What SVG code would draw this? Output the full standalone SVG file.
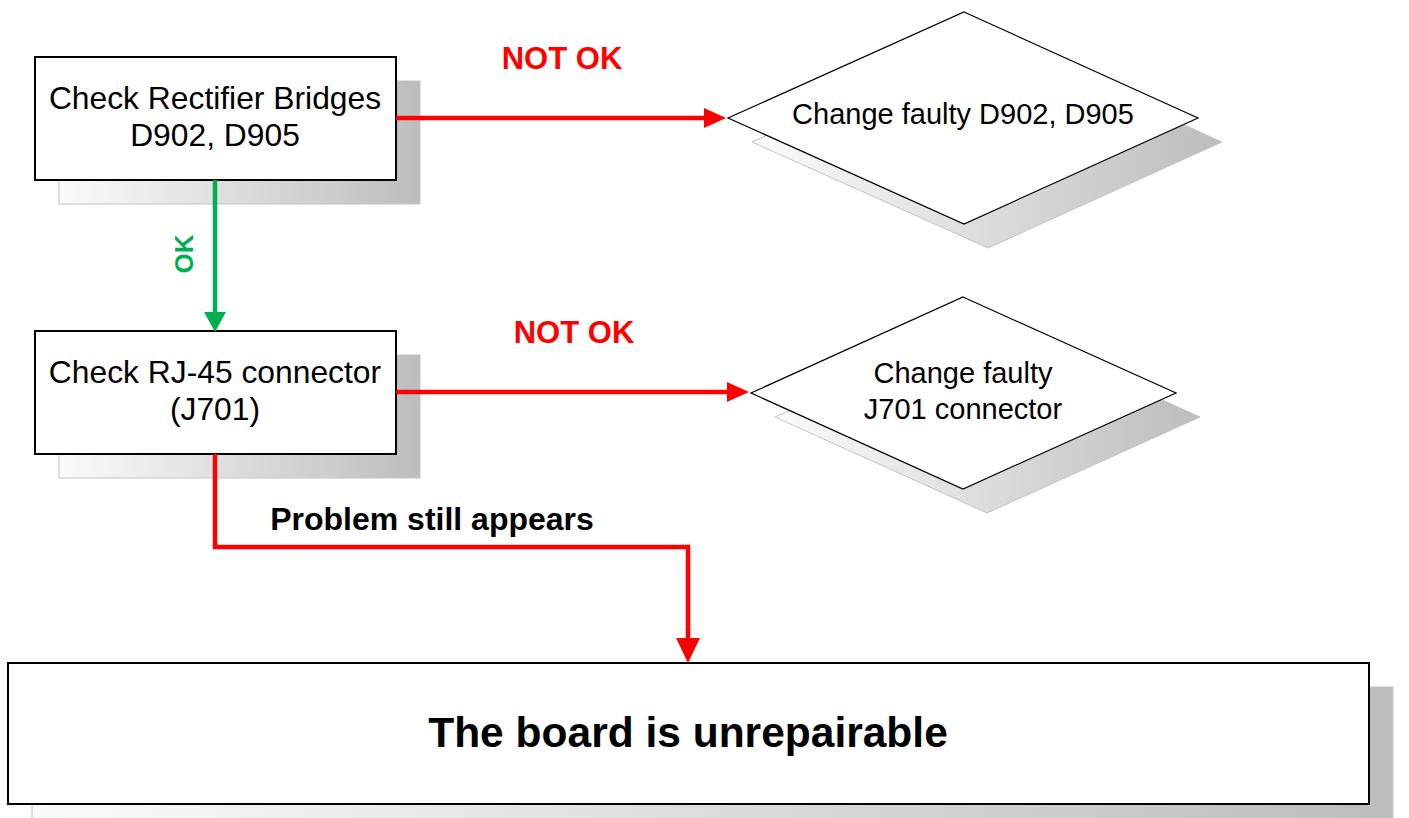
<svg xmlns="http://www.w3.org/2000/svg" width="1409" height="818" viewBox="0 0 1409 818">
<defs>
<linearGradient id="sh" x1="0" y1="0" x2="1" y2="0">
<stop offset="0" stop-color="#fbfbfb"/>
<stop offset="1" stop-color="#bdbdbd"/>
</linearGradient>
<marker id="ar" markerUnits="userSpaceOnUse" markerWidth="22" markerHeight="20" refX="12" refY="10" orient="auto">
<path d="M0,0 L22,10 L0,20 z" fill="#ff0000"/>
</marker>
<marker id="ard" markerUnits="userSpaceOnUse" markerWidth="25" markerHeight="24" refX="13" refY="12" orient="auto">
<path d="M0,0 L25,12 L0,24 z" fill="#ff0000"/>
</marker>
<marker id="ag" markerUnits="userSpaceOnUse" markerWidth="20" markerHeight="22" refX="10" refY="11" orient="auto">
<path d="M0,0 L20,11 L0,22 z" fill="#00b050"/>
</marker>
</defs>
<style>
.shadow{fill:url(#sh);stroke:#c4c4c4;stroke-width:1}
.box{fill:#ffffff;stroke:#000000;stroke-width:2}
.dia{fill:#ffffff;stroke:#000000;stroke-width:1.2}
.t{font-family:"Liberation Sans",Arial,sans-serif;font-size:31.8px;fill:#000;text-anchor:middle}
.td{font-family:"Liberation Sans",Arial,sans-serif;font-size:29px;fill:#000;text-anchor:middle}
.lbl{font-family:"Liberation Sans",Arial,sans-serif;font-weight:bold;text-anchor:middle}
.red{fill:none;stroke:#ff0000;stroke-width:4.5}
.grn{fill:none;stroke:#00b050;stroke-width:4.5}
</style>
<rect width="1409" height="818" fill="#ffffff"/>

<g id="node-rectifier">
<rect class="shadow" x="59" y="81" width="361" height="123"/>
<rect class="box" x="35" y="57" width="361" height="123"/>
<text class="t" x="215" y="109">Check Rectifier Bridges</text>
<text class="t" x="215" y="146">D902, D905</text>
</g>

<g id="node-change-d902">
<polygon class="shadow" points="988,36 1222,142 988,248 752,142"/>
<polygon class="dia" points="964,12 1198,118 964,224 728,118"/>
<text class="td" x="963" y="124">Change faulty D902, D905</text>
</g>

<g id="node-rj45">
<rect class="shadow" x="59" y="355" width="361" height="123"/>
<rect class="box" x="35" y="331" width="361" height="123"/>
<text class="t" x="215" y="383">Check RJ-45 connector</text>
<text class="t" x="215" y="420">(J701)</text>
</g>

<g id="node-change-j701">
<polygon class="shadow" points="987,321 1200,417 987,513 775,417"/>
<polygon class="dia" points="963,297 1176,393 963,489 751,393"/>
<text class="td" x="963" y="383">Change faulty</text>
<text class="td" x="963" y="419">J701 connector</text>
</g>

<g id="node-unrepairable">
<rect class="shadow" x="32" y="687" width="1361" height="141"/>
<rect class="box" x="8" y="663" width="1361" height="141"/>
<text class="lbl" x="688" y="747" font-size="42.5" fill="#000">The board is unrepairable</text>
</g>

<g id="connectors">
<path class="red" d="M396,118 H716" marker-end="url(#ar)"/>
<path class="red" d="M396,392 H739" marker-end="url(#ar)"/>
<path class="grn" d="M215,180 V322" marker-end="url(#ag)"/>
<path class="red" d="M215,454 V547 H688 V651" marker-end="url(#ard)"/>
<text class="lbl" x="562" y="69" font-size="31" fill="#ff0000">NOT OK</text>
<text class="lbl" x="574" y="343" font-size="31" fill="#ff0000">NOT OK</text>
<text class="lbl" font-size="26" fill="#00b050" transform="translate(193,254) rotate(-90)">OK</text>
<text class="lbl" x="432" y="530" font-size="32" fill="#000">Problem still appears</text>
</g>
</svg>
